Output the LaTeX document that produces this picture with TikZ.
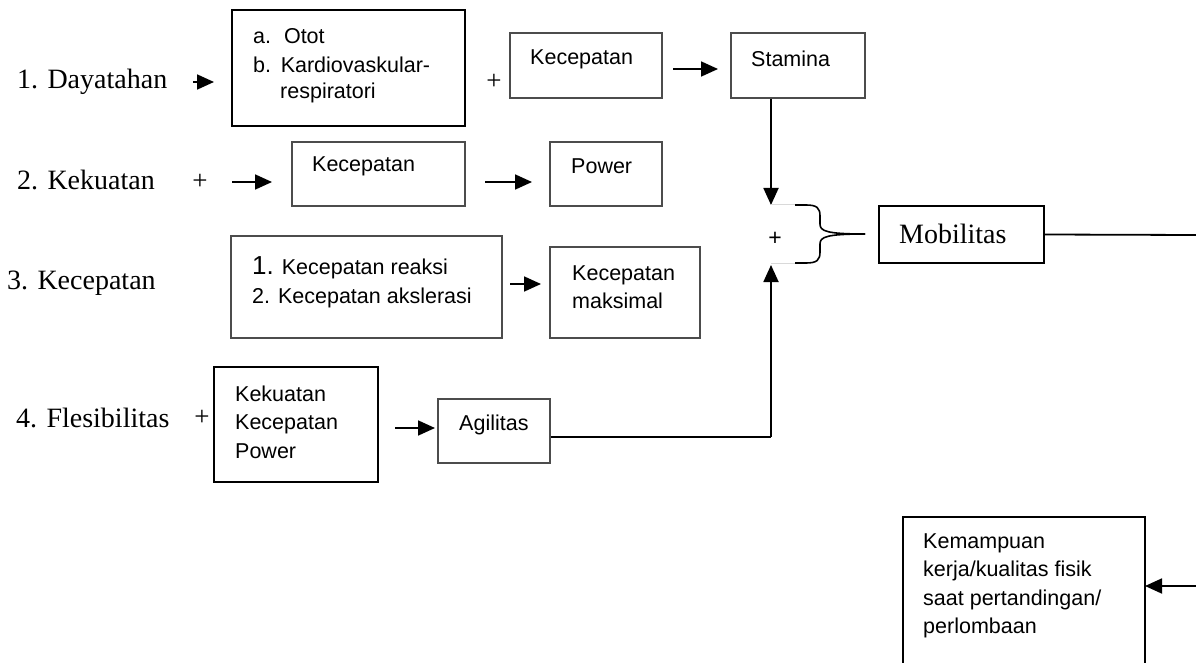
\documentclass[tikz,border=0pt]{standalone}
\usepackage{fontspec}
\setmainfont{Liberation Serif}
\setsansfont{Liberation Sans}
\usetikzlibrary{arrows.meta}
\tikzset{
  box/.style={draw=black!70, line width=1.6pt, inner sep=0pt},
  boxk/.style={draw=black, line width=1.6pt, inner sep=0pt},
  st/.style={font=\sffamily\fontsize{21.5}{28.5}\selectfont, inner sep=0pt, anchor=west, align=left},
  se/.style={font=\rmfamily\fontsize{28}{32}\selectfont, inner sep=0pt, anchor=west},
  pl/.style={font=\rmfamily\fontsize{27}{30}\selectfont, inner sep=0pt},
  arr/.style={line width=1.8pt, -{Triangle[length=17pt,width=15pt]}},
  ln/.style={line width=1.8pt}
}
\begin{document}
\begin{tikzpicture}[x=1pt,y=-1pt]
\useasboundingbox (0,0) rectangle (1196,663);
% row 1
\node[se] (day) at (17,82) {1. Dayatahan};
\node[boxk, minimum width=233pt, minimum height=116pt] (otot) at (348.5,68) {};
\node[st] (ototA) at (253,36) {a.\hspace{0.6em}Otot};
\node[st] (ototB) at (253,65) {b.\hspace{0.45em}Kardiovaskular-};
\node[st] (ototC) at (280,93) {respiratori};
\coordinate (d1) at (193,82);
\coordinate (d1e) at (214,82);
\draw[arr] (d1) -- (d1e);
\node[pl] (p1) at (494,82) {+};
\node[box, minimum width=152pt, minimum height=65pt] (kec1) at (586,65.5) {};
\node[st] (kec1t) at (530,59) {Kecepatan};
\node[box, minimum width=134pt, minimum height=65pt] (stam) at (798,65.5) {};
\node[st] (stamt) at (751,59) {Stamina};
\coordinate (a1s) at (673,69);
\coordinate (a1e) at (718,69);
\draw[arr] (a1s) -- (a1e);
% row 2
\node[se] (kek) at (17,180) {2. Kekuatan};
\node[pl] (p2) at (200,182) {+};
\node[box, minimum width=173pt, minimum height=64pt] (kec2) at (378.5,174) {};
\node[st] (kec2t) at (312,166) {Kecepatan};
\node[box, minimum width=112pt, minimum height=64pt] (pow) at (606,174) {};
\node[st] (powt) at (571,166) {Power};
\coordinate (a2s) at (232,182);
\coordinate (a2e) at (272,182);
\draw[arr] (a2s) -- (a2e);
\coordinate (a3s) at (485,182);
\coordinate (a3e) at (532,182);
\draw[arr] (a3s) -- (a3e);
% row 3
\node[se] (kec) at (7,283) {3. Kecepatan};
\node[box, minimum width=271pt, minimum height=102pt] (reak) at (366.5,287) {};
\node[st] (reakA) at (252,268) {{\fontsize{26}{28}\selectfont 1.} Kecepatan reaksi};
\node[st] (reakB) at (252,298) {2. Kecepatan akslerasi};
\node[box, minimum width=150pt, minimum height=91pt] (maks) at (625,292.5) {};
\node[st] (makst) at (572,287) {Kecepatan\\maksimal};
\coordinate (a4s) at (510,284);
\coordinate (a4e) at (541,284);
\draw[arr] (a4s) -- (a4e);
% row 4
\node[se] (fle) at (16,418) {4. Flesibilitas};
\node[pl] (p4) at (202,418) {+};
\node[boxk, minimum width=164pt, minimum height=115pt] (kkp) at (296,424.5) {};
\node[st] (kkpt) at (235,422) {Kekuatan\\Kecepatan\\Power};
\node[box, minimum width=112pt, minimum height=64pt] (agi) at (494,431) {};
\node[st] (agit) at (459,425) {Agilitas};
\coordinate (a5s) at (395,428);
\coordinate (a5e) at (435,428);
\draw[arr] (a5s) -- (a5e);
% merge
\coordinate (m1) at (771,205);
\coordinate (m2) at (771,265);
\coordinate (agc) at (771,437);
\draw[arr] (stam.south-|m1) -- (m1);
\draw[ln] (agi.east|-agc) -- (agc);
\draw[arr] (agc) -- (m2);
\node[font=\sffamily\fontsize{23}{26}\selectfont, inner sep=0pt] (plus) at (775,239) {+};
% brace
\draw[black!15, line width=1pt] (m1) -- (795,205);
\draw[black!15, line width=1pt] (m2) ++(0,-2) -- (795,263);
\draw[line width=1.6pt]
  (795,205) -- (806,205) .. controls (817,205) and (820,208) .. (820,216)
  -- (820,224) .. controls (820,231) and (826,234) .. (865,234);
\draw[line width=1.6pt]
  (795,263) -- (806,263) .. controls (817,263) and (820,260) .. (820,252)
  -- (820,244) .. controls (820,237) and (826,234) .. (865,234);
\node[boxk, minimum width=165pt, minimum height=57pt] (mob) at (961.5,234.5) {};
\node[se] (mobt) at (899,234) {Mobilitas};
\coordinate (rt) at (1196,235);
\draw[ln] (mob.east) -- (rt);
% bottom
\draw[boxk] (903,663) -- (903,517) -- (1145,517) -- (1145,663);
\node[st] (kem) at (923,586) {Kemampuan\\kerja/kualitas fisik\\saat pertandingan/\\perlombaan};
\coordinate (rb) at (1196,586);
\coordinate (kemE) at (1145,586);
\draw[arr] (rb) -- (kemE);
\end{tikzpicture}
\end{document}
